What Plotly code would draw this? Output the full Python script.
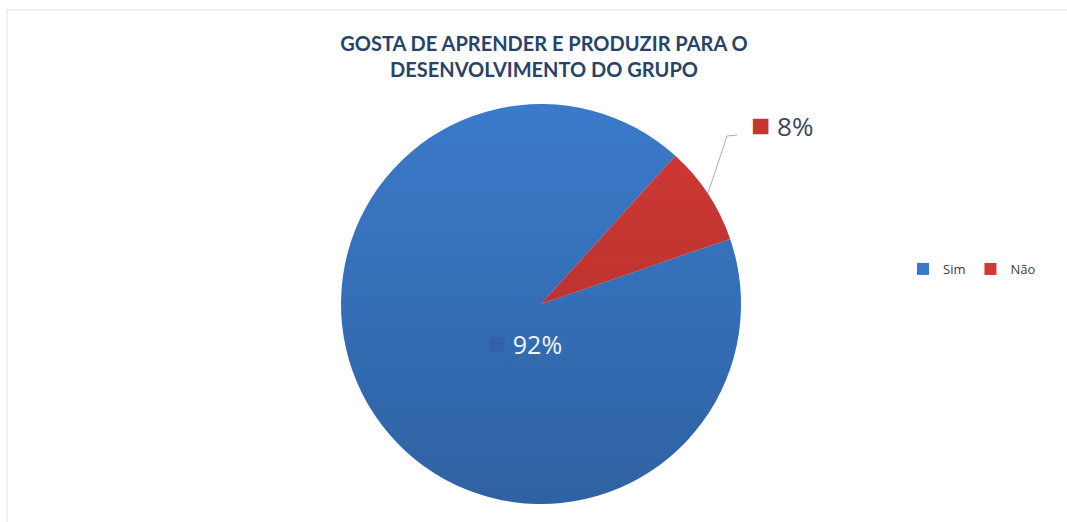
import base64
import plotly.graph_objects as go

# Survey answers
categories = ["Sim", "Não"]
values = [92, 8]
colors = ["#3a7aca", "#d23935"]

title_text = "GOSTA DE APRENDER E PRODUZIR PARA O<br>DESENVOLVIMENTO DO GRUPO"

W, H = 1067, 522

# pie box in pixels (left, top, size)
PIE_L, PIE_T, PIE_S = 341, 104, 400


def px(x):
    return x / W


def py(y):
    return 1 - y / H


total = sum(values)
pct = [round(v / total * 100) for v in values]

fig = go.Figure()
fig.add_trace(
    go.Pie(
        labels=categories,
        values=values,
        sort=False,
        direction="clockwise",
        rotation=71,
        marker=dict(colors=colors, line=dict(width=0)),
        textinfo="none",
        hoverinfo="label+percent",
        domain=dict(x=[px(PIE_L), px(PIE_L + PIE_S)], y=[py(PIE_T + PIE_S), py(PIE_T)]),
    )
)

# soft top-to-bottom shading laid over the disc
shade_svg = (
    "<svg xmlns='http://www.w3.org/2000/svg' width='400' height='400' viewBox='0 0 400 400'>"
    "<defs><linearGradient id='g' x1='0' y1='0' x2='0' y2='1'>"
    "<stop offset='0' stop-color='#000' stop-opacity='0'/>"
    "<stop offset='1' stop-color='#000' stop-opacity='0.2'/>"
    "</linearGradient></defs>"
    "<circle cx='200' cy='200' r='200' fill='url(#g)'/></svg>"
)
shade_uri = "data:image/svg+xml;base64," + base64.b64encode(shade_svg.encode()).decode()

annotations = [
    dict(
        text=f"<span style='color:#2f62a8;font-size:32px'>■</span> {pct[0]}%",
        x=px(524), y=py(341), xref="paper", yref="paper",
        xanchor="center", yanchor="middle",
        showarrow=False, font=dict(family="Open Sans", size=25, color="#f2f4f8"),
    ),
    dict(
        text=f"<span style='color:#c8342f;font-size:32px'>■</span> {pct[1]}%",
        x=px(782), y=py(123), xref="paper", yref="paper",
        xanchor="center", yanchor="middle",
        showarrow=False, font=dict(family="Open Sans", size=26, color="#3d4660"),
    ),
]

shapes = [
    # leader line to the small slice label
    dict(
        type="path", xref="paper", yref="paper",
        path=f"M {px(708)},{py(193)} L {px(727)},{py(136)} L {px(737)},{py(135)}",
        line=dict(color="#a8adb5", width=1),
    ),
    # chart area frame
    dict(
        type="rect", xref="paper", yref="paper",
        x0=px(7), y0=py(530), x1=px(1075), y1=py(10),
        line=dict(color="#dfe4e8", width=1), fillcolor="rgba(0,0,0,0)",
    ),
]

fig.update_layout(
    width=W,
    height=H,
    margin=dict(l=0, r=0, t=0, b=0),
    paper_bgcolor="white",
    plot_bgcolor="white",
    title=dict(
        text=title_text,
        x=px(544), xanchor="center",
        y=py(51), yanchor="middle",
        font=dict(family="Lato", size=20, color="#28436a", weight="bold"),
    ),
    legend=dict(
        orientation="h",
        x=px(903), y=py(269), xanchor="left", yanchor="middle",
        font=dict(family="Open Sans", size=13, color="#404040"),
        itemwidth=30,
    ),
    images=[
        dict(
            source=shade_uri, xref="paper", yref="paper",
            x=px(PIE_L), y=py(PIE_T), sizex=PIE_S / W, sizey=PIE_S / H,
            xanchor="left", yanchor="top", sizing="stretch", layer="above",
        )
    ],
    annotations=annotations,
    shapes=shapes,
)

fig.write_html("out.html")
